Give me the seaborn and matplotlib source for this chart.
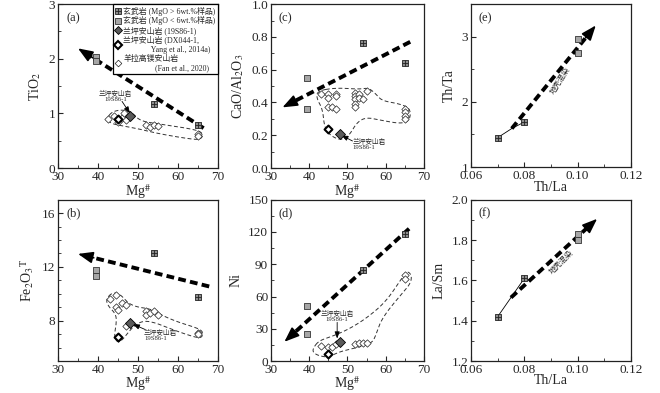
import numpy as np
import pandas as pd
import seaborn as sns
import matplotlib.pyplot as plt
from matplotlib import ticker
from matplotlib.lines import Line2D
from matplotlib.legend_handler import HandlerTuple

# ---------------- data ----------------
# basalt, MgO > 6 wt.%
bhi_mg = [54, 65]
bhi_tio2 = [1.17, 0.78]
bhi_caoal = [0.76, 0.64]
bhi_fe = [13.0, 9.8]
bhi_ni = [85, 118]
bhi_thla = [0.07, 0.08]
bhi_thta = [1.45, 1.69]
bhi_lasm = [1.42, 1.61]

# basalt, MgO < 6 wt.%
blo_mg = [39.5, 39.5]
blo_tio2 = [2.03, 1.95]
blo_caoal = [0.55, 0.36]
blo_fe = [11.75, 11.35]
blo_ni = [51, 25]
blo_thla = [0.10, 0.10]
blo_thta = [2.97, 2.75]
blo_lasm = [1.83, 1.80]

# Lanping andesite 19S86-1 and DX044-1
s19_mg = [48]
s19_tio2, s19_caoal, s19_fe, s19_ni = [0.95], [0.21], [7.85], [18]
dx_mg = [45]
dx_tio2, dx_caoal, dx_fe, dx_ni = [0.90], [0.24], [6.8], [7]

# Yangla high-Mg andesite
yl_a_mg = [42.5, 44, 45, 46, 46.5, 47, 52, 53, 54, 55, 65, 65]
yl_a_tio2 = [0.90, 0.96, 0.85, 0.92, 1.00, 0.88, 0.78, 0.75, 0.78, 0.77, 0.62, 0.58]
yl_c_mg = [43, 45, 45, 47, 47, 45, 46, 47, 52, 52, 52, 53, 53, 54, 52, 52, 55, 65, 65, 65, 65]
yl_c_caoal = [0.45, 0.45, 0.43, 0.45, 0.44, 0.37, 0.37, 0.36, 0.46, 0.44, 0.42,
              0.45, 0.43, 0.42, 0.39, 0.37, 0.47, 0.36, 0.34, 0.32, 0.30]
yl_b_mg = [43, 44.5, 44.5, 45, 46, 47, 47, 45, 52, 52, 53, 54, 55, 65, 65]
yl_b_fe = [9.6, 9.9, 9.0, 8.8, 9.3, 9.2, 7.6, 6.7, 8.7, 8.4, 8.6, 8.7, 8.4, 7.1, 7.0]
yl_d_mg = [43, 45, 46, 47, 52, 53, 54, 55, 65, 65]
yl_d_ni = [14, 13, 13, 16, 16, 17, 17, 17, 80, 76]

# dashed envelopes around the Yangla field
env_a = [(42.3, 0.92), (43.5, 1.03), (46, 1.07), (48.5, 1.02), (50.5, 0.86), (55, 0.81),
         (64, 0.71), (66.3, 0.64), (65.8, 0.52), (63, 0.53), (55, 0.63), (50, 0.72),
         (46, 0.77), (43, 0.82)]
env_c = [(42, 0.47), (47, 0.49), (53, 0.48), (55.5, 0.49), (57.5, 0.45), (59, 0.41),
         (64, 0.39), (66.5, 0.36), (66.3, 0.29), (64, 0.27), (59, 0.29), (55, 0.31),
         (52.5, 0.28), (50.5, 0.2), (48.5, 0.17), (46, 0.19), (44, 0.24), (43.5, 0.36),
         (42, 0.42)]
env_b = [(42.0, 9.6), (43.5, 10.1), (45.5, 10.0), (47.5, 9.3), (50, 9.0), (53, 8.9),
         (56, 8.4), (60, 7.9), (64.5, 7.5), (66.3, 7.2), (66, 6.75), (64.5, 6.75),
         (59, 7.3), (54, 7.9), (51, 8.0), (48.5, 7.5), (46.5, 6.7), (45, 6.35),
         (44, 6.8), (44.6, 7.8), (44.5, 8.5), (42.5, 9.1)]
env_d = [(41, 12), (42.5, 19), (46, 23), (50.5, 30), (55, 40), (60, 55), (64, 76),
         (65.5, 84), (66.8, 80), (66.5, 72), (64, 62), (59, 40), (57.5, 25),
         (56.5, 17), (53, 13), (48, 9), (45, 3.5), (42.5, 5), (41, 8)]

# trend arrows (tail, tip)
arr_a = [(66.4, 0.73), (35, 2.19)]
arr_c = [(66.4, 0.77), (33, 0.37)]
arr_b = [(67.8, 10.55), (35, 12.97)]
arr_d = [(66.1, 123), (33.5, 18)]
arr_e = [(0.0753, 1.59), (0.1068, 3.17)]
arr_f = [(0.0750, 1.515), (0.1073, 1.905)]

# ---------------- style ----------------
sns.set_style("ticks")
plt.rcParams.update({
    "font.family": ["Liberation Serif", "Noto Sans CJK SC"],
    "mathtext.fontset": "stix",
    "xtick.direction": "in", "ytick.direction": "in",
    "xtick.labelsize": 9.5, "ytick.labelsize": 9.5,
    "axes.labelsize": 10,
    "axes.linewidth": 0.9,
    "axes.edgecolor": "#222222",
    "xtick.major.size": 3.5, "ytick.major.size": 3.5,
    "xtick.minor.size": 2, "ytick.minor.size": 2,
    "xtick.major.pad": 2, "ytick.major.pad": 2,
})
CJK = ["Liberation Serif", "Noto Sans CJK SC"]

C_HI, C_LO, C_19 = "#8c8c8c", "#a6a6a6", "#5a5a5a"


def smooth(pts, n=4):
    # Chaikin corner cutting on a closed outline
    p = np.array(pts, dtype=float)
    for _ in range(n):
        q = np.roll(p, -1, axis=0)
        r = np.empty((2 * len(p), 2))
        r[0::2] = 0.75 * p + 0.25 * q
        r[1::2] = 0.25 * p + 0.75 * q
        p = r
    return np.vstack([p, p[:1]])


def envelope(ax, pts):
    p = smooth(pts)
    ax.plot(p[:, 0], p[:, 1], ls=(0, (4, 2.5)), lw=0.7, color="#333333")


def trend(ax, arr):
    (x0, y0), (x1, y1) = arr
    xf = x1 - 0.07 * (x1 - x0)
    yf = y1 - 0.07 * (y1 - y0)
    ax.plot([x0, xf], [y0, yf], ls=(0, (2.0, 1.1)), lw=2.8, color="k", solid_capstyle="butt")
    ax.annotate("", xy=(x1, y1), xytext=(x1 - 0.12 * (x1 - x0), y1 - 0.12 * (y1 - y0)),
                arrowprops=dict(arrowstyle="-|>,head_length=0.9,head_width=0.35",
                                color="k", lw=1.2, shrinkA=0, shrinkB=0))


def basalts(ax, xh, yh, xl, yl):
    sns.scatterplot(x=xh, y=yh, ax=ax, marker="s", s=24, color=C_HI, edgecolor="#222222", linewidth=0.6, zorder=5)
    sns.scatterplot(x=xh, y=yh, ax=ax, marker="+", s=24, color="#222222", linewidth=0.6, zorder=6)
    sns.scatterplot(x=xl, y=yl, ax=ax, marker="s", s=24, color=C_LO, edgecolor="#333333", linewidth=0.6, zorder=5)


def andesites(ax, ym, yv, s19y, dxy):
    sns.scatterplot(x=ym, y=yv, ax=ax, marker="D", s=14, color="white", edgecolor="#222222", linewidth=0.5, zorder=4)
    sns.scatterplot(x=dx_mg, y=dxy, ax=ax, marker="D", s=16, color="white", edgecolor="k", linewidth=1.5, zorder=6)
    sns.scatterplot(x=s19_mg, y=s19y, ax=ax, marker="D", s=26, color=C_19, edgecolor="k", linewidth=0.6, zorder=6)


def note(ax, text_xy, arrow_from, arrow_to, ha="center"):
    ax.text(text_xy[0], text_xy[1], "兰坪安山岩\n19S86-1", fontsize=4.8, family=CJK,
            ha=ha, va="center", linespacing=0.9)
    ax.annotate("", xy=arrow_to, xytext=arrow_from,
                arrowprops=dict(arrowstyle="-|>,head_length=0.4,head_width=0.15", color="k", lw=0.6,
                                shrinkA=0, shrinkB=0))


def mg_axis(ax, ylim, ymaj, ymin, ylabel, pad=-0.5):
    ax.set_xlim(30, 70)
    ax.set_ylim(*ylim)
    ax.xaxis.set_major_locator(ticker.MultipleLocator(10))
    ax.xaxis.set_minor_locator(ticker.MultipleLocator(5))
    ax.yaxis.set_major_locator(ticker.MultipleLocator(ymaj))
    ax.yaxis.set_minor_locator(ticker.MultipleLocator(ymin))
    ax.set_xlabel("Mg$^{\\#}$", labelpad=pad)
    ax.set_ylabel(ylabel)


def tag(ax, s):
    ax.text(0.05, 0.95, s, transform=ax.transAxes, fontsize=9, ha="left", va="top")


fig = plt.figure(figsize=(6.6, 3.93), dpi=100)
W1, W2, H = 0.2424, 0.2318, 0.417
ax_a = fig.add_axes([0.0879, 0.5725, W1, H])
ax_c = fig.add_axes([0.4106, 0.5725, W2, H])
ax_e = fig.add_axes([0.7136, 0.5750, W1, 0.415])
ax_b = fig.add_axes([0.0879, 0.0810, W1, 0.411])
ax_d = fig.add_axes([0.4106, 0.0810, W2, 0.411])
ax_f = fig.add_axes([0.7136, 0.0810, W1, 0.411])

# (a) TiO2
envelope(ax_a, env_a)
trend(ax_a, arr_a)
basalts(ax_a, bhi_mg, bhi_tio2, blo_mg, blo_tio2)
andesites(ax_a, yl_a_mg, yl_a_tio2, s19_tio2, dx_tio2)
note(ax_a, (44.4, 1.32), (46.0, 1.22), (48.0, 1.0))
mg_axis(ax_a, (0, 3), 1, 0.5, "TiO$_2$")
ax_a.yaxis.set_major_formatter(ticker.FormatStrFormatter("%d"))
tag(ax_a, "(a)")

h_hi = (Line2D([], [], marker="s", ls="", ms=4.6, mfc=C_HI, mec="#222222", mew=0.6),
        Line2D([], [], marker="+", ls="", ms=4.6, mec="#222222", mew=0.6))
h_lo = Line2D([], [], marker="s", ls="", ms=4.6, mfc=C_LO, mec="#333333", mew=0.6)
h_19 = Line2D([], [], marker="D", ls="", ms=4.2, mfc=C_19, mec="k", mew=0.6)
h_dx = Line2D([], [], marker="D", ls="", ms=3.6, mfc="white", mec="k", mew=1.5)
h_yl = Line2D([], [], marker="D", ls="", ms=3.4, mfc="white", mec="#222222", mew=0.5)
labels = ["玄武岩 (MgO > 6wt.%样品)", "玄武岩 (MgO < 6wt.%样品)", "兰坪安山岩 (19S86-1)",
          "兰坪安山岩 (DX044-1,\n              Yang et al., 2014a)",
          "羊拉高镁安山岩\n                (Fan et al., 2020)"]
leg = ax_a.legend([h_hi, h_lo, h_19, h_dx, h_yl], labels, loc="upper right",
                  handler_map={tuple: HandlerTuple(ndivide=1)},
                  prop={"family": CJK, "size": 5.7}, frameon=True, fancybox=False,
                  edgecolor="k", framealpha=1, borderaxespad=0, borderpad=0.3,
                  handlelength=0.7, handletextpad=0.3, labelspacing=0.1)
leg.get_frame().set_linewidth(0.9)

# (c) CaO/Al2O3
envelope(ax_c, env_c)
trend(ax_c, arr_c)
basalts(ax_c, bhi_mg, bhi_caoal, blo_mg, blo_caoal)
andesites(ax_c, yl_c_mg, yl_c_caoal, s19_caoal, dx_caoal)
note(ax_c, (51.3, 0.145), (51.3, 0.165), (48.4, 0.2), ha="left")
mg_axis(ax_c, (0, 1.0), 0.2, 0.1, "CaO/Al$_2$O$_3$")
ax_c.yaxis.set_major_formatter(ticker.FormatStrFormatter("%.1f"))
tag(ax_c, "(c)")

# (b) Fe2O3T
envelope(ax_b, env_b)
trend(ax_b, arr_b)
basalts(ax_b, bhi_mg, bhi_fe, blo_mg, blo_fe)
andesites(ax_b, yl_b_mg, yl_b_fe, s19_fe, dx_fe)
note(ax_b, (51.5, 6.95), (51.8, 7.35), (48.7, 7.75), ha="left")
mg_axis(ax_b, (5, 17), 4, 1, "Fe$_2$O$_3$$^{\\mathrm{T}}$", pad=-1.5)
tag(ax_b, "(b)")

# (d) Ni
envelope(ax_d, env_d)
trend(ax_d, arr_d)
basalts(ax_d, bhi_mg, bhi_ni, blo_mg, blo_ni)
andesites(ax_d, yl_d_mg, yl_d_ni, s19_ni, dx_ni)
note(ax_d, (47.3, 42), (47.3, 36), (47.3, 21))
mg_axis(ax_d, (0, 150), 30, 15, "Ni", pad=-1.5)
tag(ax_d, "(d)")


def thla_axis(ax, ylim, ymaj, ymin, ylabel, fmt, pad=-0.5):
    ax.set_xlim(0.06, 0.12)
    ax.set_ylim(*ylim)
    ax.xaxis.set_major_locator(ticker.MultipleLocator(0.02))
    ax.xaxis.set_minor_locator(ticker.MultipleLocator(0.01))
    ax.xaxis.set_major_formatter(ticker.FormatStrFormatter("%.2f"))
    ax.yaxis.set_major_locator(ticker.MultipleLocator(ymaj))
    ax.yaxis.set_minor_locator(ticker.MultipleLocator(ymin))
    ax.yaxis.set_major_formatter(ticker.FormatStrFormatter(fmt))
    ax.set_xlabel("Th/La", labelpad=pad)
    ax.set_ylabel(ylabel)


# (e) Th/Ta
for x, y in zip(bhi_thla, bhi_thta):
    ax_e.plot([x, arr_e[0][0]], [y, arr_e[0][1]], color="k", lw=0.6)
trend(ax_e, arr_e)
basalts(ax_e, bhi_thla, bhi_thta, blo_thla, blo_thta)
ax_e.text(0.0935, 2.33, "地壳混染", family=CJK, fontsize=5.5, rotation=58, ha="center", va="center")
thla_axis(ax_e, (1, 3.5), 1, 0.5, "Th/Ta", "%d")
tag(ax_e, "(e)")

# (f) La/Sm
for x, y in zip(bhi_thla, bhi_lasm):
    ax_f.plot([x, arr_f[0][0]], [y, arr_f[0][1]], color="k", lw=0.6)
trend(ax_f, arr_f)
basalts(ax_f, bhi_thla, bhi_lasm, blo_thla, blo_lasm)
ax_f.text(0.094, 1.69, "地壳混染", family=CJK, fontsize=5.5, rotation=45, ha="center", va="center")
thla_axis(ax_f, (1.2, 2.0), 0.2, 0.1, "La/Sm", "%.1f", pad=-1.5)
tag(ax_f, "(f)")

for ax in fig.axes:
    ax.tick_params(which="both", top=False, right=False)
    for sp in ax.spines.values():
        sp.set_visible(True)

fig.savefig("out.png", dpi=100)
